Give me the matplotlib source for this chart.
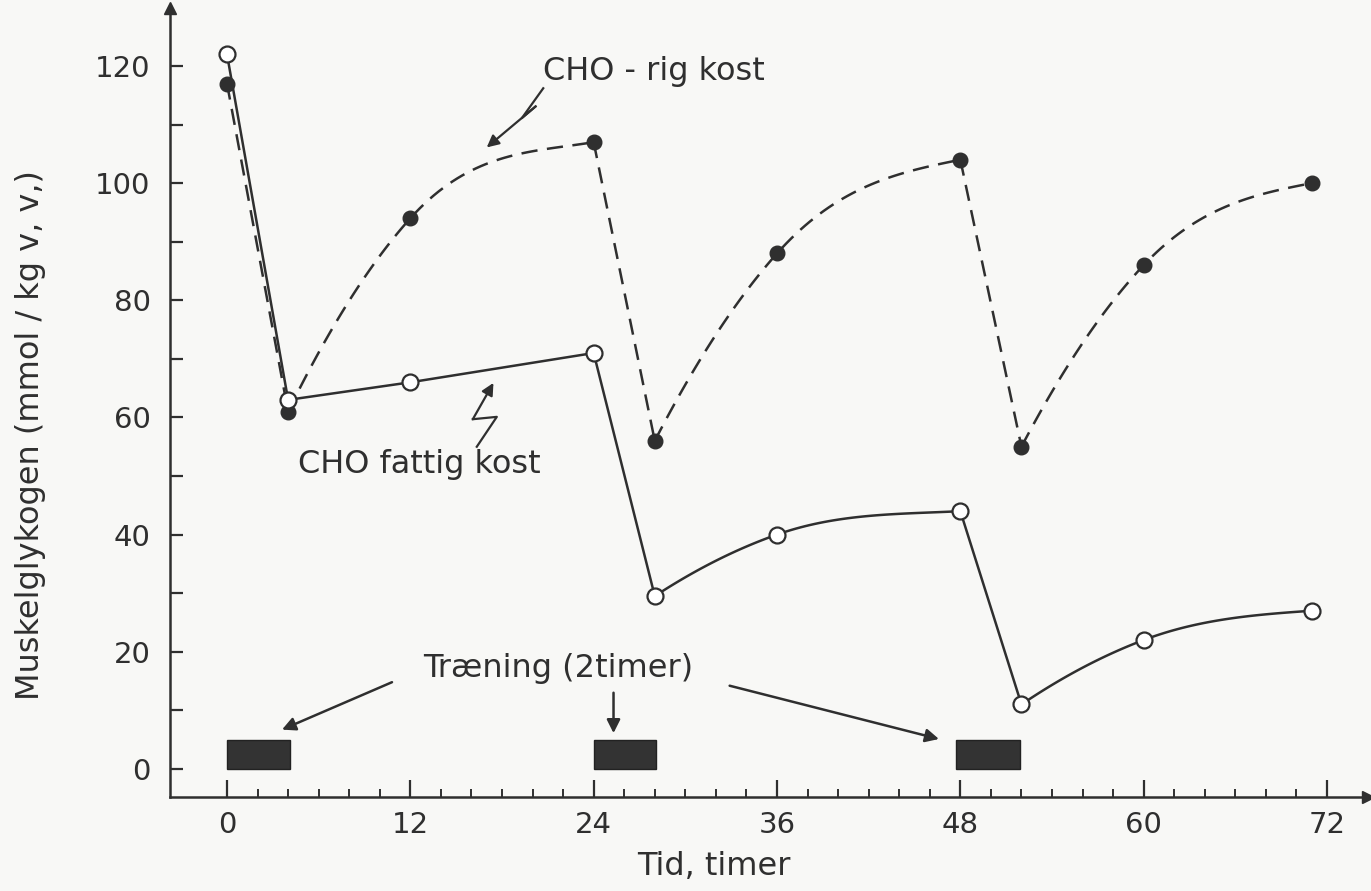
import numpy as np
import matplotlib.pyplot as plt
from matplotlib.ticker import FixedLocator

# timer efter start
hours = [0, 4, 12, 24, 28, 36, 48, 52, 60, 71]
rig = [117, 61, 94, 107, 56, 88, 104, 55, 86, 100]        # CHO-rig kost (fyldte punkter)
fattig = [122, 63, 66, 71, 29.5, 40, 44, 11, 22, 27]      # CHO fattig kost (aabne punkter)

# traeningsperioder (start, slut) i timer
train_start = [0, 24, 47.7]
train_end = [4.1, 28.1, 51.9]
train_height = 5

xticks = [0, 12, 24, 36, 48, 60, 72]
yticks = [0, 20, 40, 60, 80, 100, 120]

ink = '#2f2f2f'
paper = '#f8f8f6'


def curve3(xs, ys):
    # smooth cubic hermite through three points (only the line shape)
    h0, h1 = xs[1] - xs[0], xs[2] - xs[1]
    d0, d1 = (ys[1] - ys[0]) / h0, (ys[2] - ys[1]) / h1
    m1 = (h1 * d0 + h0 * d1) / (h0 + h1)
    m0 = 2 * d0 - m1
    m2 = 0.4 * d1
    out_x, out_y = [], []
    for (xa, xb, ya, yb, ma, mb) in [(xs[0], xs[1], ys[0], ys[1], m0, m1),
                                     (xs[1], xs[2], ys[1], ys[2], m1, m2)]:
        h = xb - xa
        t = np.linspace(0, 1, 40)
        yy = ((2 * t**3 - 3 * t**2 + 1) * ya + (t**3 - 2 * t**2 + t) * h * ma
              + (-2 * t**3 + 3 * t**2) * yb + (t**3 - t**2) * h * mb)
        out_x.append(xa + t * h)
        out_y.append(yy)
    return np.concatenate(out_x), np.concatenate(out_y)


def draw_series(ax, x, y, ls, dashes, curved_parts):
    # piecewise: drops straight, recovery parts curved
    segs = [(0, 2), (1, 4), (3, 5), (4, 7), (6, 8), (7, 10)]
    for (a, b), curved in zip(segs, curved_parts):
        xs = np.array(x[a:b], float)
        ys = np.array(y[a:b], float)
        if curved:
            xs, ys = curve3(xs, ys)
        line, = ax.plot(xs, ys, color=ink, lw=1.8, ls=ls, zorder=2, solid_capstyle='round')
        if dashes:
            line.set_dashes(dashes)


fig = plt.figure(figsize=(13.71, 8.91), dpi=100, facecolor=paper)
ax = fig.add_axes([0.124, 0.1055, 0.874, 0.8855], facecolor=paper)

draw_series(ax, hours, rig, '--', (6.5, 3.8), [False, True, False, True, False, True])
draw_series(ax, hours, fattig, '-', None, [False, False, False, True, False, True])

ax.plot(hours, rig, 'o', ms=10.5, color=ink, mec=ink, zorder=4)
ax.plot(hours, fattig, 'o', ms=11.5, mfc='white', mec=ink, mew=1.6, zorder=5)

# traening
for s, e in zip(train_start, train_end):
    ax.bar(s, train_height, width=e - s, align='edge', bottom=0,
           color='#333333', edgecolor='#222222', lw=1, zorder=3)

# akser
ax.set_xlim(-3.73, 74.7)
ax.set_ylim(-4.8, 129.9)
for sp in ['top', 'right']:
    ax.spines[sp].set_visible(False)
for sp in ['left', 'bottom']:
    ax.spines[sp].set_linewidth(1.8)
    ax.spines[sp].set_color(ink)
ax.plot(1, 0, '>', color=ink, ms=9, transform=ax.transAxes, clip_on=False)
ax.plot(0, 1, '^', color=ink, ms=9, transform=ax.transAxes, clip_on=False)

ax.xaxis.set_major_locator(FixedLocator(xticks))
ax.xaxis.set_minor_locator(FixedLocator(np.arange(0, 73, 2)))
ax.yaxis.set_major_locator(FixedLocator(yticks))
ax.yaxis.set_minor_locator(FixedLocator(np.arange(10, 120, 20)))
ax.tick_params(axis='x', which='major', direction='in', length=12, width=1.6, color=ink,
               labelsize=21, labelcolor=ink, pad=10)
ax.tick_params(axis='x', which='minor', direction='in', length=6, width=1.4, color=ink)
ax.tick_params(axis='y', which='both', direction='in', length=9, width=1.6, color=ink,
               labelsize=21, labelcolor=ink, pad=14)

fig.text(0.022, 0.512, 'Muskelglykogen (mmol / kg v, v,)', rotation=90,
         ha='center', va='center', fontsize=23, color=ink)
fig.text(0.521, 0.028, 'Tid, timer', ha='center', va='center', fontsize=23, color=ink)

# CHO-rig kost med lyn-pil
ax.text(27.96, 119.0, 'CHO - rig kost', ha='center', va='center', fontsize=23, color=ink)
ax.plot([20.7, 19.3, 20.2], [116.2, 111.1, 113.1], color=ink, lw=1.6)
ax.annotate('', xy=(17.0, 106.1), xytext=(20.2, 113.1),
            arrowprops=dict(arrowstyle='-|>', color=ink, lw=1.6, mutation_scale=18,
                            shrinkA=0, shrinkB=0))

# CHO fattig kost med lyn-pil
ax.text(12.6, 51.9, 'CHO fattig kost', ha='center', va='center', fontsize=23, color=ink)
ax.plot([16.35, 17.66, 16.09], [55.0, 60.1, 59.7], color=ink, lw=1.6)
ax.annotate('', xy=(17.44, 65.9), xytext=(16.09, 59.7),
            arrowprops=dict(arrowstyle='-|>', color=ink, lw=1.6, mutation_scale=18,
                            shrinkA=0, shrinkB=0))

# Traening (2 timer)
ax.text(21.7, 17.2, 'Træning (2timer)', ha='center', va='center', fontsize=23, color=ink)
arrow_kw = dict(arrowstyle='-|>', color=ink, lw=1.8, mutation_scale=20, shrinkA=0, shrinkB=0)
ax.annotate('', xy=(3.6, 6.7), xytext=(10.8, 14.8), arrowprops=arrow_kw)
ax.annotate('', xy=(25.3, 6.1), xytext=(25.3, 13.0), arrowprops=arrow_kw)
ax.annotate('', xy=(46.6, 5.1), xytext=(32.9, 14.2), arrowprops=arrow_kw)

fig.savefig('out.png', dpi=100, facecolor=paper)
